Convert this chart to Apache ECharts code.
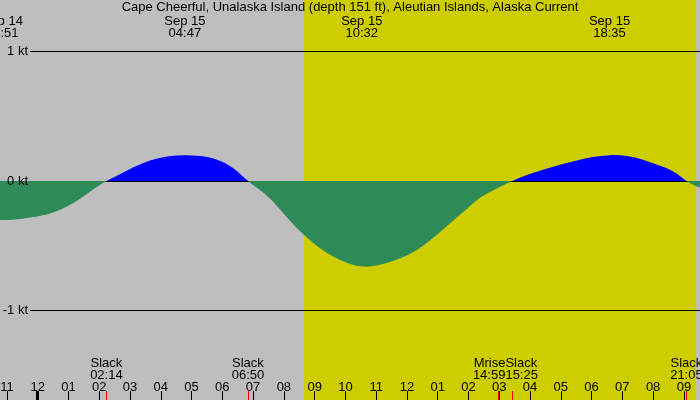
<!DOCTYPE html>
<html><head><meta charset="utf-8">
<script src="https://cdn.jsdelivr.net/npm/echarts@6/dist/echarts.min.js"></script>
<style>html,body{margin:0;padding:0;background:#bebebe}#c{width:700px;height:400px}</style>
</head><body><div id="c"></div>
<script>
// Hours are measured from 00:00 Sep 15
const chartTitle = 'Cape Cheerful, Unalaska Island (depth 151 ft), Aleutian Islands, Alaska Current';
const currentHours = [-1.225, -0.900, -0.575, -0.153, 0.400, 0.952, 1.472, 1.797, 2.233, 2.590, 3.097, 3.650, 4.203, 4.783, 5.275, 5.827, 6.347, 6.833, 7.548, 7.970, 8.623, 9.273, 9.825, 10.533, 11.450, 12.197, 12.847, 13.627, 13.952, 14.375, 14.700, 15.417, 16.417, 16.973, 17.525, 18.045, 18.583, 19.150, 19.672, 20.225, 20.777, 21.083, 21.524];
const currentKnots = [-0.30, -0.30, -0.293, -0.278, -0.25, -0.197, -0.122, -0.065, 0, 0.042, 0.105, 0.159, 0.19, 0.20, 0.193, 0.165, 0.10, 0, -0.134, -0.245, -0.41, -0.535, -0.61, -0.66, -0.625, -0.55, -0.44, -0.28, -0.215, -0.13, -0.085, 0, 0.087, 0.126, 0.159, 0.185, 0.20, 0.193, 0.165, 0.118, 0.056, 0, -0.05];
const tickHours = [-1,0,1,2,3,4,5,6,7,8,9,10,11,12,13,14,15,16,17,18,19,20,21];
const tickLabels = ['11','12','01','02','03','04','05','06','07','08','09','10','11','12','01','02','03','04','05','06','07','08','09'];
const midnightHours = [0];
const peakHours = [-1.15, 4.783, 10.533, 18.583];
const peakDates = ['Sep 14','Sep 15','Sep 15','Sep 15'];
const peakTimes = ['22:51','04:47','10:32','18:35'];
const eventHours = [2.233, 6.833, 14.983, 15.417, 21.083];
const eventNames = ['Slack','Slack','Mrise','Slack','Slack'];
const eventTimes = ['02:14','06:50','14:59','15:25','21:05'];
const daylightHours = [8.65, 21.40];
const knotLevels = [1, 0, -1];
const knotLabels = ['1 kt', '0 kt', '-1 kt'];
const outerLevels = [1, -1];

const xMin = -1.225, xMax = 21.524, yMin = -1.691, yMax = 1.398;
const lineStart = -0.25;
const FONT = 'Liberation Sans';
const FS = 13;
const FLOOD = '#0000ff', EBB = '#2e8b57';

const chart = echarts.init(document.getElementById('c'), null, {renderer: 'canvas'});

function baseX(extra) {
  return Object.assign({
    type: 'value', min: xMin, max: xMax, position: 'bottom', z: 10,
    splitLine: {show: false}, axisLine: {show: false, onZero: false},
    axisLabel: {show: false}
  }, extra);
}

// natural cubic spline second derivatives (pixel space)
function splineM(xs, ys) {
  const n = xs.length, a = new Array(n).fill(0), b = new Array(n).fill(1),
        c = new Array(n).fill(0), r = new Array(n).fill(0);
  for (let i = 1; i < n - 1; i++) {
    const h0 = xs[i] - xs[i - 1], h1 = xs[i + 1] - xs[i];
    a[i] = h0 / 6; b[i] = (h0 + h1) / 3; c[i] = h1 / 6;
    r[i] = (ys[i + 1] - ys[i]) / h1 - (ys[i] - ys[i - 1]) / h0;
  }
  for (let i = 1; i < n; i++) {
    const w = a[i] / b[i - 1];
    b[i] -= w * c[i - 1]; r[i] -= w * r[i - 1];
  }
  const M = new Array(n);
  M[n - 1] = r[n - 1] / b[n - 1];
  for (let i = n - 2; i >= 0; i--) M[i] = (r[i] - c[i] * M[i + 1]) / b[i];
  return M;
}

function renderCurrent(params, api) {
  if (params.dataIndex !== 0) return null;
  const pts = currentHours.map((h, i) => api.coord([h, currentKnots[i]]));
  const zeroY = Math.round(api.coord([xMin, 0])[1]);
  const startX = api.coord([lineStart, 0])[0], endX = api.coord([xMax, 0])[0];
  const xs = pts.map(p => p[0]), ys = pts.map(p => p[1]);
  const M = splineM(xs, ys);
  let d = 'M' + xs[0] + ' ' + zeroY + ' L' + xs[0] + ' ' + ys[0];
  for (let i = 0; i < xs.length - 1; i++) {
    const h = xs[i + 1] - xs[i], sec = (ys[i + 1] - ys[i]) / h;
    const d0 = sec - h * (2 * M[i] + M[i + 1]) / 6;
    const d1 = sec + h * (M[i] + 2 * M[i + 1]) / 6;
    d += ' C' + (xs[i] + h / 3) + ' ' + (ys[i] + d0 * h / 3) + ' ' +
         (xs[i + 1] - h / 3) + ' ' + (ys[i + 1] - d1 * h / 3) + ' ' +
         xs[i + 1] + ' ' + ys[i + 1];
  }
  d += ' L' + xs[xs.length - 1] + ' ' + zeroY + ' Z';
  const grad = new echarts.graphic.LinearGradient(0, zeroY - 200, 0, zeroY + 200, [
    {offset: 0, color: FLOOD}, {offset: 0.5, color: FLOOD},
    {offset: 0.5, color: EBB}, {offset: 1, color: EBB}
  ], true);
  return {type: 'group', children: [
    {type: 'line', shape: {x1: startX, y1: zeroY + 0.5, x2: endX, y2: zeroY + 0.5},
     style: {stroke: '#000', lineWidth: 1}},
    {type: 'path', shape: {pathData: d}, style: {fill: grad, stroke: null}}
  ]};
}

const option = {
  backgroundColor: '#bebebe',
  animation: false,
  grid: {left: 0, right: 0, top: 0, bottom: 0, containLabel: false, outerBoundsMode: 'none'},
  xAxis: [
    baseX({
      axisTick: {show: true, inside: true, length: 9, customValues: tickHours, lineStyle: {color: '#000', width: 1}},
      axisLabel: {show: true, inside: true, margin: 6, customValues: tickHours, hideOverlap: false,
        formatter: v => tickLabels[tickHours.indexOf(Math.round(v))],
        color: '#000', fontSize: FS, fontFamily: FONT}
    }),
    baseX({
      axisTick: {show: true, inside: true, length: 9, customValues: eventHours, lineStyle: {color: '#ff0000', width: 1}}
    }),
    baseX({
      axisTick: {show: true, inside: true, length: 9, customValues: midnightHours, lineStyle: {color: '#000', width: 3}}
    })
  ],
  yAxis: {type: 'value', min: yMin, max: yMax, show: false},
  series: [
    {
      type: 'line', data: [], z: 0, silent: true,
      markArea: {silent: true, z: 0, itemStyle: {color: '#cdcd00'},
        data: [[{xAxis: daylightHours[0]}, {xAxis: daylightHours[1]}]]}
    },
    {
      type: 'line', data: [], z: 1, silent: true,
      markLine: {
        symbol: 'none', silent: true, animation: false, z: 1,
        lineStyle: {color: '#000', width: 1, type: 'solid'},
        label: {show: false},
        data: outerLevels.map(k => [{coord: [lineStart, k]}, {coord: [xMax, k]}])
      }
    },
    {
      type: 'custom', z: 5, silent: true, clip: true,
      data: currentHours.map((h, i) => [h, currentKnots[i]]),
      encode: {x: 0, y: 1},
      renderItem: renderCurrent
    }
  ]
};
chart.setOption(option);

const px = h => chart.convertToPixel({xAxisIndex: 0}, h);
const py = v => chart.convertToPixel({yAxisIndex: 0}, v);
const textStyle = (extra) => Object.assign({fill: '#000', font: FS + 'px "' + FONT + '"'}, extra);
const graphics = [];
graphics.push({type: 'text', x: 350, y: 7, z: 50,
  style: textStyle({text: chartTitle, textAlign: 'center', textVerticalAlign: 'middle'})});
knotLevels.forEach((k, i) => {
  graphics.push({type: 'text', x: px(lineStart) - 2, y: py(k), z: 50,
    style: textStyle({text: knotLabels[i], textAlign: 'right', textVerticalAlign: 'middle'})});
});
peakHours.forEach((h, i) => {
  graphics.push({type: 'text', x: px(h), y: 27, z: 50,
    style: textStyle({text: peakDates[i] + '\n' + peakTimes[i], textAlign: 'center', textVerticalAlign: 'middle', lineHeight: 12})});
});
// bottom events, pushing apart labels that collide
const ctx = document.createElement('canvas').getContext('2d');
ctx.font = FS + 'px "' + FONT + '"';
const ev = eventHours.map((h, i) => {
  const w = Math.max(ctx.measureText(eventNames[i]).width, ctx.measureText(eventTimes[i]).width);
  return {x: px(h), w: w, align: 'center', i: i};
});
for (let k = 0; k < ev.length - 1; k++) {
  const a = ev[k], b = ev[k + 1];
  if (a.x + a.w / 2 > b.x - b.w / 2) {
    const mid = (a.x + b.x) / 2;
    a.x = mid; a.align = 'right';
    b.x = mid; b.align = 'left';
  }
}
ev.forEach(e => {
  graphics.push({type: 'text', x: e.x, y: 369, z: 50,
    style: textStyle({text: eventNames[e.i] + '\n' + eventTimes[e.i], textAlign: e.align, textVerticalAlign: 'middle', lineHeight: 12})});
});
chart.setOption({graphic: graphics});
</script>
</body></html>
